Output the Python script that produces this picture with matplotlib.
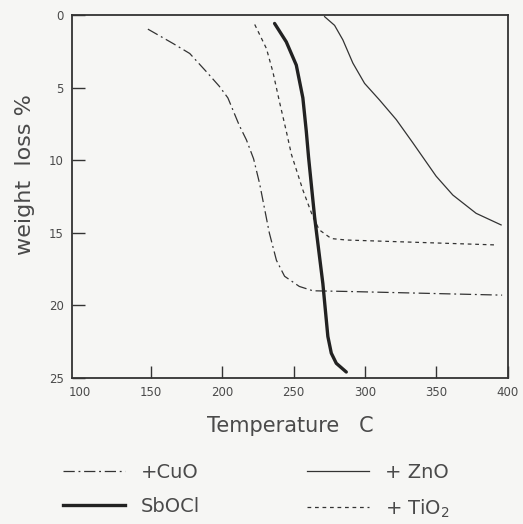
import matplotlib
matplotlib.use("Agg")
import matplotlib.pyplot as plt
from matplotlib.lines import Line2D

# weight loss (%) vs temperature (C)
cuo_t = [148, 165.6, 177.3, 189, 198, 204, 212, 217, 222, 226.2, 233, 238,
         243.7, 254, 263.5, 289, 396]
cuo_w = [0.96, 1.95, 2.64, 3.9, 4.9, 5.7, 7.6, 8.6, 9.9, 11.6, 15.0, 16.9,
         18.0, 18.7, 19.0, 19.05, 19.3]

tio2_t = [222.8, 231, 235.5, 240.2, 244.9, 248.5, 256.5, 263.5, 268, 276.4,
          286.9, 391.8]
tio2_w = [0.64, 2.3, 3.9, 6.0, 8.0, 9.6, 12.05, 13.9, 14.8, 15.4, 15.5, 15.84]

sbocl_t = [236.7, 244.9, 251.9, 256.5, 258.9, 260.5, 264.7, 270.5, 274,
           276.4, 279.9, 286.9]
sbocl_w = [0.57, 1.84, 3.44, 5.7, 8.0, 9.8, 13.9, 18.5, 22.15, 23.3, 24.0, 24.6]

zno_t = [271.7, 278.7, 284.5, 291.5, 299.7, 310.2, 321.9, 333.5, 349.8,
         361.5, 377.8, 395.3]
zno_w = [0.1, 0.7, 1.7, 3.3, 4.7, 5.85, 7.2, 8.8, 11.1, 12.4, 13.66, 14.46]

x_ticks = [100, 150, 200, 250, 300, 350, 400]
y_ticks = [0, 5, 10, 15, 20, 25]

ink = "#333333"
txt = "#4a4a4a"
bg = "#f6f6f4"

fig = plt.figure(figsize=(5.23, 5.24), dpi=100, facecolor=bg)
ax = fig.add_axes([0.138, 0.279, 0.833, 0.692], facecolor=bg)

ax.plot(cuo_t, cuo_w, color=ink, lw=0.9, dashes=(9, 3, 1.5, 3))
ax.plot(tio2_t, tio2_w, color=ink, lw=0.9, dashes=(3, 3))
ax.plot(sbocl_t, sbocl_w, color="#222222", lw=2.4, solid_capstyle="round")
ax.plot(zno_t, zno_w, color=ink, lw=0.9)

ax.set_xlim(95, 400)
ax.set_ylim(25, 0)
ax.set_xticks(x_ticks)
ax.set_yticks(y_ticks)
ax.tick_params(direction="in", length=9, width=1, colors=ink,
               labelsize=8.5, labelcolor=txt, pad=6)
ax.xaxis.get_major_ticks()[0].tick1line.set_visible(False)
for s in ax.spines.values():
    s.set_linewidth(1.3)
    s.set_color(ink)

ax.set_xlabel("Temperature   C", fontsize=15, color=txt, labelpad=12)
ax.set_ylabel("weight  loss %", fontsize=16, color=txt)
ax.yaxis.set_label_coords(-0.085, 0.56)

handles = [
    Line2D([], [], color=ink, lw=0.9, dashes=(9, 3, 1.5, 3)),
    Line2D([], [], color="#222222", lw=2.4),
    Line2D([], [], color=ink, lw=0.9),
    Line2D([], [], color=ink, lw=0.9, dashes=(3, 3)),
]
labels = ["+CuO", "SbOCl", "+ ZnO", "+ TiO$_2$"]
fig.legend(handles, labels, ncol=2, loc="lower center",
           bbox_to_anchor=(0.49, -0.025), frameon=False, fontsize=14,
           labelcolor=txt, columnspacing=5.5, handlelength=3.2,
           labelspacing=0.8)

fig.savefig("out.png", dpi=100, facecolor=bg)
